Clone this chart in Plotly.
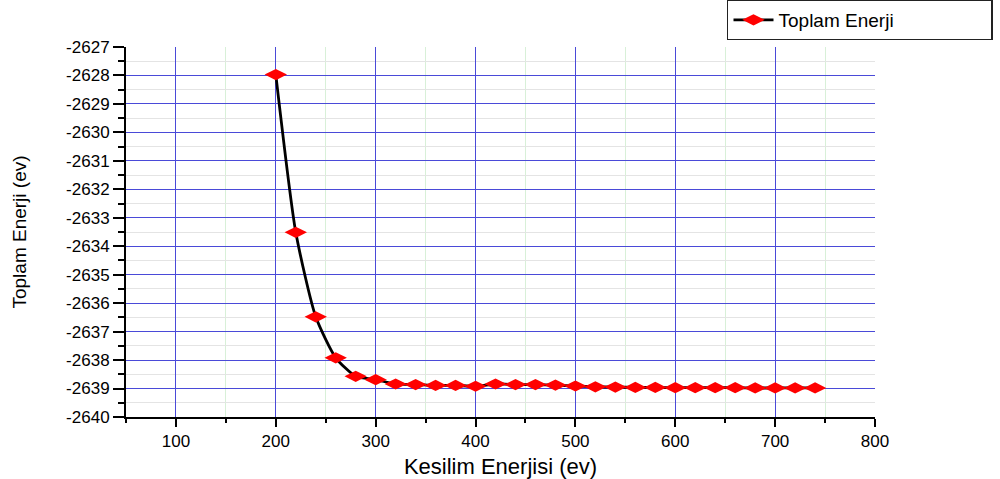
import plotly.graph_objects as go

# Cut-off energy (eV) and total energy (eV)
kesilim_enerjisi = [200, 220, 240, 260, 280, 300, 320, 340, 360, 380, 400, 420, 440,
                    460, 480, 500, 520, 540, 560, 580, 600, 620, 640, 660, 680, 700,
                    720, 740]
toplam_enerji = [-2627.97, -2633.51, -2636.48, -2637.92, -2638.57, -2638.69, -2638.84,
                 -2638.86, -2638.89, -2638.89, -2638.92, -2638.84, -2638.86, -2638.86,
                 -2638.88, -2638.91, -2638.94, -2638.95, -2638.96, -2638.96, -2638.97,
                 -2638.97, -2638.97, -2638.97, -2638.98, -2638.98, -2638.98, -2638.98]

y_ticks = list(range(-2640, -2626))
y_tick_labels = [str(v) for v in y_ticks]
y_grid = list(range(-2640, -2627))          # major grid stops below the top edge
x_ticks = list(range(100, 801, 100))
x_tick_labels = [str(v) for v in x_ticks]

FONT = "Liberation Sans, Arial, sans-serif"
Y_RANGE = [-2640, -2627]

fig = go.Figure()
fig.add_trace(go.Scatter(
    x=kesilim_enerjisi, y=toplam_enerji,
    mode="lines+markers",
    name="Toplam Enerji",
    line=dict(color="black", width=2.8, shape="spline", smoothing=0.6),
    marker=dict(symbol="diamond-wide", size=16, color="#ff0000",
                line=dict(width=0)),
))

fig.update_layout(
    width=1000, height=479,
    margin=dict(l=126, r=125, t=47, b=62, autoexpand=False),
    paper_bgcolor="white", plot_bgcolor="white",
    font=dict(family=FONT, color="black", size=17),
    showlegend=True,
    legend=dict(
        x=0.8024, y=1.073, xanchor="left", yanchor="middle",
        orientation="h", entrywidth=208, itemwidth=40,
        bordercolor="#222222", borderwidth=1.5, bgcolor="white",
        font=dict(size=19, family=FONT),
    ),
    xaxis=dict(
        range=[50, 800], tickvals=x_ticks, ticktext=x_tick_labels,
        ticks="outside", ticklen=8, tickwidth=1.5, tickcolor="black",
        showline=True, linecolor="black", linewidth=2,
        showgrid=True, gridcolor="#4a4ad8", gridwidth=1,
        zeroline=False,
        tickfont=dict(size=17),
        title=dict(text="Kesilim Enerjisi (ev)", font=dict(size=22), standoff=10),
        minor=dict(dtick=50, tick0=0, ticks="outside", ticklen=4, tickcolor="black",
                   showgrid=True, gridcolor="#d8f0d8", gridwidth=1),
    ),
    yaxis=dict(
        range=Y_RANGE, tickvals=y_ticks, ticktext=y_tick_labels,
        ticks="outside", ticklen=11, tickwidth=1.5, tickcolor="black",
        showline=True, linecolor="black", linewidth=2,
        showgrid=False,
        zeroline=False,
        tickfont=dict(size=17),
        title=dict(text="Toplam Enerji (ev)", font=dict(size=19), standoff=34),
        minor=dict(dtick=0.5, tick0=0, ticks="outside", ticklen=6, tickcolor="black",
                   showgrid=True, gridcolor="#e4e4e4", gridwidth=1),
    ),
    # overlay axis carrying only the major horizontal grid lines
    yaxis2=dict(
        range=Y_RANGE, overlaying="y", matches="y", tickvals=y_grid,
        showticklabels=False, ticks="", showline=False, zeroline=False,
        showgrid=True, gridcolor="#4a4ad8", gridwidth=1, layer="below traces",
    ),
)
# invisible trace anchors the overlay axis so its grid is drawn
fig.add_trace(go.Scatter(x=[None], y=[None], yaxis="y2", showlegend=False,
                         hoverinfo="skip"))

fig.write_html("out.html")
